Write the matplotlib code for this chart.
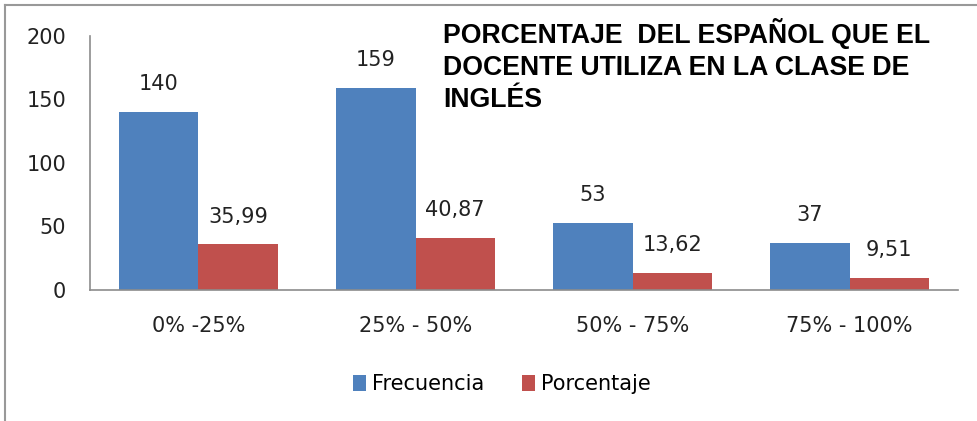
import matplotlib
matplotlib.use("Agg")
import matplotlib.pyplot as plt
from matplotlib.lines import Line2D
import numpy as np

categories = ["0% -25%", "25% - 50%", "50% - 75%", "75% - 100%"]
frecuencia = [140, 159, 53, 37]
porcentaje = [35.99, 40.87, 13.62, 9.51]
yticks = [0, 50, 100, 150, 200]
title = "PORCENTAJE  DEL ESPAÑOL QUE EL\nDOCENTE UTILIZA EN LA CLASE DE\nINGLÉS"

blue = "#4F81BD"
red = "#C0504D"
grey = "#8C8C8C"

fig = plt.figure(figsize=(9.77, 4.21), dpi=100)
ax = fig.add_axes([0.0921, 0.3112, 0.8885, 0.6033])

x = np.arange(len(categories))
w = 0.365
b1 = ax.bar(x - w / 2, frecuencia, w, color=blue, label="Frecuencia")
b2 = ax.bar(x + w / 2, porcentaje, w, color=red, label="Porcentaje")

for bar, v in zip(b1, frecuencia):
    ax.annotate(f"{v}", (bar.get_x() + bar.get_width() / 2, bar.get_height()),
                xytext=(0, 20), textcoords="offset points", ha="center", va="center",
                fontsize=15, color="#222222")
for bar, v in zip(b2, porcentaje):
    ax.annotate(f"{v:.2f}".replace(".", ","), (bar.get_x() + bar.get_width() / 2, bar.get_height()),
                xytext=(0, 20), textcoords="offset points", ha="center", va="center",
                fontsize=15, color="#222222")

ax.set_xlim(-0.5, 3.5)
ax.set_ylim(0, 200)
ax.set_xticks(x)
ax.set_xticklabels(categories)
ax.set_yticks(yticks)
ax.tick_params(axis="both", length=0, labelsize=15, colors="#222222")
ax.tick_params(axis="y", pad=17)
ax.tick_params(axis="x", pad=19)
for s in ["top", "right"]:
    ax.spines[s].set_visible(False)
for s in ["left", "bottom"]:
    ax.spines[s].set_color(grey)
    ax.spines[s].set_linewidth(1.2)

leg = ax.legend(loc="center", bbox_to_anchor=(502 / 977, 1 - 384 / 421),
                bbox_transform=fig.transFigure, ncol=2, frameon=False,
                fontsize=15, handlelength=0.6, handleheight=0.8,
                handletextpad=0.3, columnspacing=1.8)

fig.text(443 / 977, 1 - 18 / 421, title, ha="left", va="top",
         fontsize=19.2, fontweight="bold", family="Liberation Sans",
         linespacing=1.3, color="black")

# outer chart frame (cropped on right and bottom)
fig.add_artist(Line2D([5 / 977, 1.0], [1 - 5 / 421] * 2, color="#999999", lw=1.5,
                      transform=fig.transFigure))
fig.add_artist(Line2D([5 / 977] * 2, [0.0, 1 - 5 / 421], color="#999999", lw=1.5,
                      transform=fig.transFigure))

fig.savefig("out.png", dpi=100, facecolor="white")
